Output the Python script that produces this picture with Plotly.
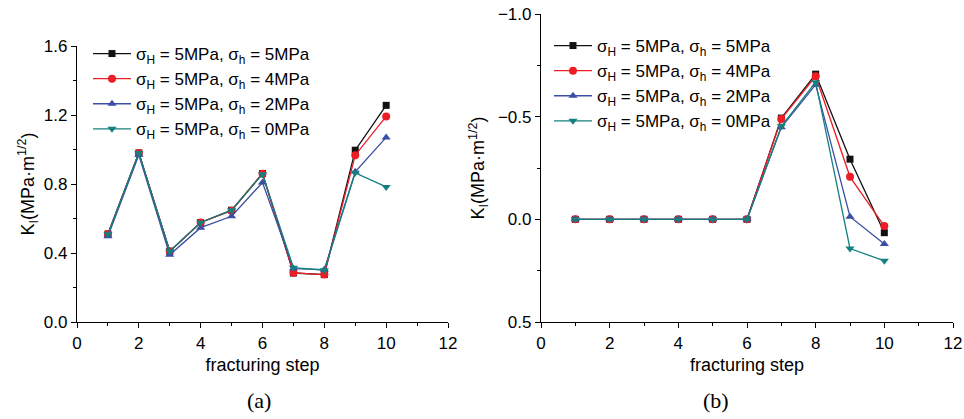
import plotly.graph_objects as go

steps = [1, 2, 3, 4, 5, 6, 7, 8, 9, 10]
series_names = [
    "σ<sub>H</sub> = 5MPa, σ<sub>h</sub> = 5MPa",
    "σ<sub>H</sub> = 5MPa, σ<sub>h</sub> = 4MPa",
    "σ<sub>H</sub> = 5MPa, σ<sub>h</sub> = 2MPa",
    "σ<sub>H</sub> = 5MPa, σ<sub>h</sub> = 0MPa",
]
# (a) K_I values
ka_55 = [0.51, 0.98, 0.41, 0.577, 0.648, 0.861, 0.284, 0.275, 0.996, 1.256]
ka_54 = [0.51, 0.98, 0.41, 0.577, 0.645, 0.860, 0.285, 0.275, 0.967, 1.192]
ka_52 = [0.497, 0.968, 0.39, 0.547, 0.613, 0.809, 0.31, 0.304, 0.871, 1.07]
ka_50 = [0.509, 0.98, 0.41, 0.577, 0.648, 0.857, 0.315, 0.30, 0.865, 0.783]
# (b) values
kb_55 = [0, 0, 0, 0, 0, 0, -0.493, -0.707, -0.293, 0.065]
kb_54 = [0, 0, 0, 0, 0, 0, -0.489, -0.697, -0.207, 0.033]
kb_52 = [0, 0, 0, 0, 0, 0, -0.448, -0.656, -0.013, 0.12]
kb_50 = [0, 0, 0, 0, 0, 0, -0.453, -0.668, 0.142, 0.202]

colors = ["#111111", "#ee1c24", "#3a4ea3", "#14817f"]
symbols = ["square", "circle", "triangle-up", "triangle-down"]
sizes = [7, 8, 8, 8]

fig = go.Figure()
for i, (ya, yb) in enumerate(zip([ka_55, ka_54, ka_52, ka_50], [kb_55, kb_54, kb_52, kb_50])):
    fig.add_trace(go.Scatter(x=steps, y=ya, mode="lines+markers", name=series_names[i],
                             line=dict(color=colors[i], width=1.3),
                             marker=dict(symbol=symbols[i], size=sizes[i], color=colors[i]),
                             xaxis="x", yaxis="y", legend="legend"))
    fig.add_trace(go.Scatter(x=steps, y=yb, mode="lines+markers", name=series_names[i],
                             line=dict(color=colors[i], width=1.3),
                             marker=dict(symbol=symbols[i], size=sizes[i], color=colors[i]),
                             xaxis="x2", yaxis="y2", legend="legend2"))

W, H = 964, 419
font = "Liberation Sans, Arial, sans-serif"
axis_common = dict(showline=True, linecolor="black", linewidth=1.3, showgrid=False, zeroline=False,
                   ticks="outside", ticklen=5, tickwidth=1.2, tickcolor="black", automargin=False,
                   tickfont=dict(family=font, size=17, color="black"), mirror=False)
xcommon = dict(axis_common, range=[0, 12], dtick=2, tick0=0,
               minor=dict(dtick=1, ticks="outside", ticklen=3, tickcolor="black", tickwidth=1.2),
               title=dict(text="fracturing step", font=dict(family=font, size=18, color="black"), standoff=6))

ytitle = "K<sub>I</sub>(MPa·m<sup>1/2</sup>)"
fig.update_layout(
    width=W, height=H, margin=dict(l=0, r=0, t=0, b=0, autoexpand=False),
    paper_bgcolor="white", plot_bgcolor="white",
    font=dict(family=font, size=17, color="black"),
    xaxis=dict(xcommon, domain=[77 / W, 448 / W], anchor="y"),
    yaxis=dict(axis_common, domain=[(H - 322) / H, (H - 46) / H], anchor="x",
               range=[0, 1.6], dtick=0.4, tick0=0, tickformat=".1f",
               minor=dict(dtick=0.2, ticks="outside", ticklen=3, tickcolor="black", tickwidth=1.2),
               title=dict(text=ytitle, font=dict(family=font, size=18, color="black"), standoff=4)),
    xaxis2=dict(xcommon, domain=[541 / W, 953 / W], anchor="y2"),
    yaxis2=dict(axis_common, domain=[(H - 322) / H, (H - 14) / H], anchor="x2",
                range=[0.5, -1.0], dtick=0.5, tick0=0, tickformat=".1f",
                minor=dict(dtick=0.25, ticks="outside", ticklen=3, tickcolor="black", tickwidth=1.2),
                title=dict(text=ytitle, font=dict(family=font, size=18, color="black"), standoff=8)),
    legend=dict(x=88 / W, y=1 - 36 / H, xanchor="left", yanchor="top", bgcolor="rgba(0,0,0,0)",
                font=dict(family=font, size=17, color="black"), itemwidth=38, tracegroupgap=0),
    legend2=dict(x=549 / W, y=1 - 28 / H, xanchor="left", yanchor="top", bgcolor="rgba(0,0,0,0)",
                 font=dict(family=font, size=17, color="black"), itemwidth=38, tracegroupgap=0),
    annotations=[
        dict(text="(a)", x=245 / W, y=1 - 400 / H, xref="paper", yref="paper", showarrow=False,
             yanchor="middle", font=dict(family="Liberation Serif, Times New Roman, serif", size=22, color="black")),
        dict(text="(b)", x=731 / W, y=1 - 400 / H, xref="paper", yref="paper", showarrow=False,
             yanchor="middle", font=dict(family="Liberation Serif, Times New Roman, serif", size=22, color="black")),
    ],
)

fig.write_html("out.html")
